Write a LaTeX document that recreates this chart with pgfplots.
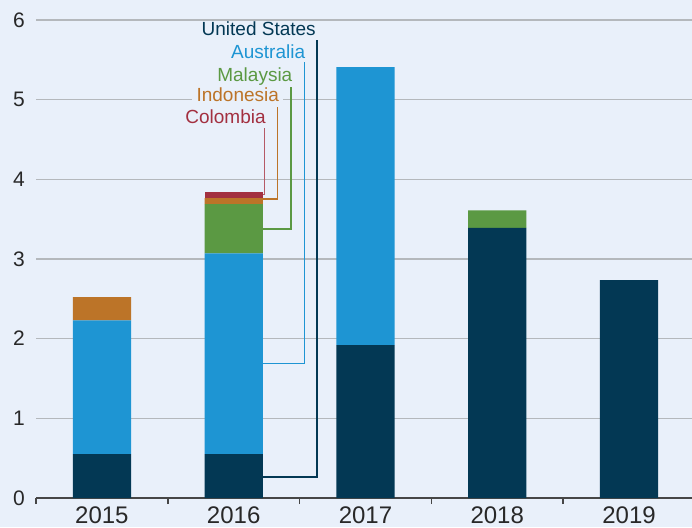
\documentclass[border=0pt]{standalone}
\usepackage{pgfplots}
\pgfplotsset{compat=1.18}
\usepackage{fontspec}
\setmainfont{Liberation Sans}

\definecolor{bg}{RGB}{233,240,250}
\definecolor{usc}{RGB}{3,56,84}
\definecolor{ausc}{RGB}{30,149,211}
\definecolor{myc}{RGB}{91,153,67}
\definecolor{idc}{RGB}{188,116,40}
\definecolor{coc}{RGB}{163,48,64}
\definecolor{gridc}{RGB}{180,184,188}
\definecolor{axc}{RGB}{70,70,70}
\definecolor{tickc}{RGB}{40,40,40}

\tikzset{lab/.style={anchor=base east, inner sep=0pt, font=\fontsize{19}{19}\selectfont}}

\begin{document}
\begin{tikzpicture}
\fill[bg] (0,0) rectangle (692pt,527pt);
\useasboundingbox (0,0) rectangle (692pt,527pt);
\begin{axis}[
    at={(36pt,29pt)}, anchor=south west,
    scale only axis, width=656pt, height=478pt,
    xmin=-0.5, xmax=4.478, ymin=0, ymax=6,
    ybar stacked, bar width=0.442,
    axis x line*=bottom, axis y line*=left,
    x axis line style={draw=axc, line width=2pt, -},
    y axis line style={draw=none},
    ytick={0,1,2,3,4,5,6}, ytick style={draw=none},
    ymajorgrids, grid style={line width=1.5pt, gridc},
    xtick={0,1,2,3,4}, xticklabels={2015,2016,2017,2018,2019},
    minor xtick={-0.5,0.5,1.5,2.5,3.5},
    major tick length=0pt, minor tick length=6pt, tick align=outside,
    xtick style={line width=1.5pt, axc},
    /pgf/number format/assume math mode=true,
    xticklabel style={font=\fontsize{24}{24}\selectfont, text=tickc, anchor=north, inner sep=0pt, yshift=-9pt},
    yticklabel style={font=\fontsize{21}{21}\selectfont, text=tickc, anchor=east, inner sep=0pt, xshift=-11pt},
    clip=false,
]
% United States
\addplot[fill=usc, draw=none] coordinates {(0,0.55) (1,0.55) (2,1.92) (3,3.39) (4,2.735)};
% Australia
\addplot[fill=ausc, draw=none] coordinates {(0,1.68) (1,2.52) (2,3.49) (3,0) (4,0)};
% Malaysia
\addplot[fill=myc, draw=none] coordinates {(0,0) (1,0.62) (2,0) (3,0.22) (4,0)};
% Indonesia
\addplot[fill=idc, draw=none] coordinates {(0,0.29) (1,0.075) (2,0) (3,0) (4,0)};
% Colombia
\addplot[fill=coc, draw=none] coordinates {(0,0) (1,0.07) (2,0) (3,0) (4,0)};

% leader lines
\draw[usc, line width=1.5pt] (axis cs:1.221,0.265) -| (axis cs:1.632,5.75);
\draw[ausc, line width=1.5pt] (axis cs:1.221,1.69) -| (axis cs:1.536,5.47);
\draw[myc, line width=1.5pt] (axis cs:1.221,3.375) -| (axis cs:1.435,5.16);
\draw[idc, line width=1.5pt] (axis cs:1.221,3.75) -| (axis cs:1.334,4.91);
\draw[coc!80, line width=1.5pt] (axis cs:1.221,3.81) -| (axis cs:1.233,4.64);

% labels
\node[lab, text=usc, xshift=-1pt] at (axis cs:1.632,5.80) {United States};
\node[lab, text=ausc, xshift=1pt] at (axis cs:1.536,5.517) {Australia};
\node[lab, text=myc, xshift=1.5pt] at (axis cs:1.435,5.223) {Malaysia};
\node[lab, text=idc, fill=bg, inner xsep=4.5pt, inner ysep=1pt, xshift=6pt] at (axis cs:1.334,4.972) {Indonesia};
\node[lab, text=coc, xshift=1.5pt] at (axis cs:1.233,4.70) {Colombia};
\end{axis}
\end{tikzpicture}
\end{document}
